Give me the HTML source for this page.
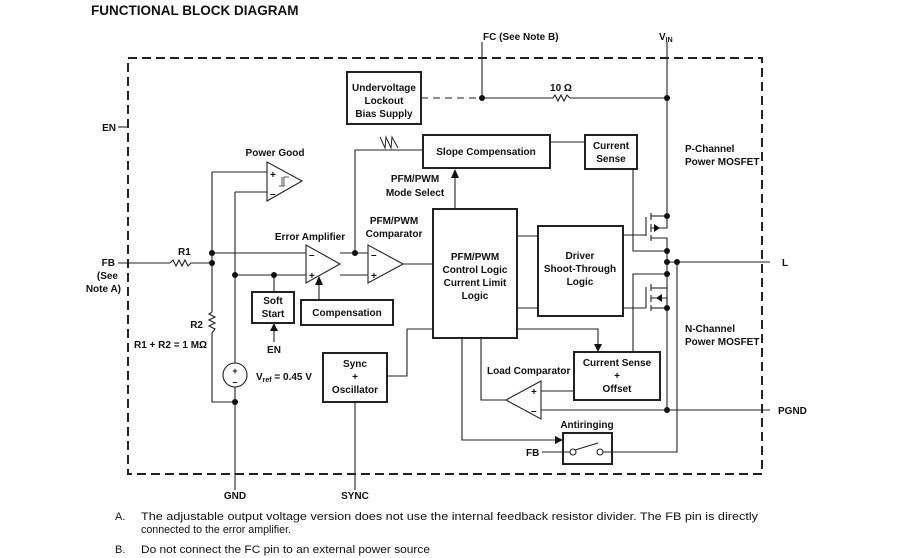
<!DOCTYPE html>
<html><head><meta charset="utf-8"><style>
body{margin:0;background:#fff;}
svg{display:block;}
text{font-family:"Liberation Sans",Arial,sans-serif;font-size:10px;font-weight:bold;fill:#111;}
.n{font-weight:normal;font-size:11px;}
</style></head><body>
<svg width="898" height="558" viewBox="0 0 898 558" xmlns="http://www.w3.org/2000/svg">
<g stroke="#222" fill="none" stroke-width="1.1">
<rect x="128" y="58" width="634" height="416" stroke-width="2" stroke-dasharray="9,5"/>
<line x1="482" y1="42" x2="482" y2="98"/>
<line x1="667" y1="42" x2="667" y2="217"/>
<line x1="421" y1="98" x2="482" y2="98" stroke-dasharray="7,5"/>
<line x1="482" y1="98" x2="553" y2="98"/>
<polyline points="553,98 555,95 558,101 561,95 564,101 567,95 570,98"/>
<line x1="570" y1="98" x2="667" y2="98"/>
<rect x="347" y="72" width="74" height="52" stroke-width="2"/>
<rect x="423" y="135" width="127" height="33" stroke-width="2"/>
<rect x="585" y="135" width="52" height="34" stroke-width="2"/>
<line x1="550" y1="142" x2="585" y2="142"/>
<polyline points="633,169 633,251 667,251"/>
<polyline points="423,150 355,150 355,253"/>
<polyline points="380,137 385,148 386,137 391,148 392,137 398,148" stroke-width="1"/>
<line x1="455" y1="209" x2="455" y2="176"/>
<rect x="433" y="209" width="84" height="129" stroke-width="2"/>
<rect x="538" y="226" width="85" height="90" stroke-width="2"/>
<line x1="517" y1="236" x2="538" y2="236"/>
<line x1="517" y1="308" x2="538" y2="308"/>
<line x1="623" y1="235" x2="646" y2="235"/>
<line x1="623" y1="308" x2="646" y2="308"/>
<line x1="646" y1="217" x2="646" y2="236"/>
<line x1="651" y1="213" x2="651" y2="220"/><line x1="651" y1="224" x2="651" y2="232"/><line x1="651" y1="235" x2="651" y2="241"/>
<line x1="651" y1="216" x2="667" y2="216"/>
<polyline points="651,228 667,228 667,216"/>
<polyline points="651,238 667,238 667,308"/>
<line x1="646" y1="287" x2="646" y2="308"/>
<line x1="651" y1="284" x2="651" y2="291"/><line x1="651" y1="295" x2="651" y2="302"/><line x1="651" y1="305" x2="651" y2="311"/>
<line x1="651" y1="288" x2="667" y2="288"/>
<polyline points="651,298 667,298 667,308"/>
<line x1="651" y1="308" x2="667" y2="308"/>
<line x1="667" y1="308" x2="667" y2="410"/>
<polyline points="633,352 633,274 667,274"/>
<line x1="667" y1="262" x2="770" y2="262"/>
<rect x="574" y="352" width="86" height="48" stroke-width="2"/>
<polyline points="517,329 598,329 598,346"/>
<line x1="574" y1="391" x2="541" y2="391"/>
<polygon points="541,381 541,419 506,400" fill="#fff"/>
<line x1="541" y1="410" x2="770" y2="410"/>
<polyline points="506,400 481,400 481,338"/>
<rect x="563" y="433" width="49" height="31" stroke-width="2"/>
<polyline points="462,338 462,440 557,440"/>
<line x1="542" y1="452" x2="570" y2="452"/>
<circle cx="573" cy="452" r="3" fill="#fff"/>
<circle cx="600" cy="452" r="3" fill="#fff"/>
<line x1="575" y1="450" x2="598" y2="443"/>
<polyline points="603,452 677,452 677,262"/>
<line x1="118" y1="127" x2="128" y2="127"/>
<line x1="118" y1="263" x2="170" y2="263"/>
<polyline points="170,263 173,260 176,266 179,260 182,266 185,260 188,266 191,263 212,263"/>
<line x1="212" y1="172" x2="212" y2="312"/>
<line x1="212" y1="172" x2="267" y2="172"/>
<polyline points="212,312 209,314 215,317 209,320 215,323 209,326 215,329 212,333 212,402 235,402"/>
<line x1="212" y1="253" x2="306" y2="253"/>
<line x1="340" y1="253" x2="368" y2="253"/>
<line x1="235" y1="192" x2="267" y2="192"/>
<line x1="235" y1="192" x2="235" y2="490"/>
<line x1="235" y1="275" x2="306" y2="275"/>
<line x1="340" y1="275" x2="368" y2="275"/>
<polygon points="267,162 267,201 302,181" fill="#fff"/>
<polyline points="279,186 284,186 284,177 289,177" stroke-width="0.8"/>
<line x1="282" y1="186" x2="282" y2="177" stroke-width="0.8"/>
<polygon points="306,245 306,283 340,264" fill="#fff"/>
<polygon points="368,245 368,283 403,264" fill="#fff"/>
<line x1="403" y1="264" x2="433" y2="264"/>
<line x1="274" y1="275" x2="274" y2="292"/>
<rect x="252" y="292" width="42" height="31" stroke-width="2"/>
<line x1="274" y1="342" x2="274" y2="330"/>
<rect x="301" y="300" width="92" height="25" stroke-width="2"/>
<line x1="319" y1="300" x2="319" y2="284"/>
<circle cx="235" cy="375" r="12" fill="#fff"/>
<rect x="323" y="353" width="64" height="49" stroke-width="2"/>
<polyline points="387,376 407,376 407,329 433,329"/>
<line x1="355" y1="402" x2="355" y2="490"/>
</g>
<g fill="#111">
<polygon points="451,178 459,178 455,169"/>
<polygon points="594,344 602,344 598,352"/>
<polygon points="555,436 555,444 563,440"/>
<polygon points="270,331 278,331 274,323"/>
<polygon points="315,285 323,285 319,276"/>
<polygon points="654,224 654,232 660,228"/>
<polygon points="662,294 662,302 656,298"/>
<circle cx="482" cy="98" r="3"/><circle cx="667" cy="98" r="3"/>
<circle cx="667" cy="216" r="3"/><circle cx="667" cy="251" r="3"/><circle cx="667" cy="262" r="3"/>
<circle cx="677" cy="262" r="3"/><circle cx="667" cy="274" r="3"/><circle cx="667" cy="308" r="3"/>
<circle cx="667" cy="410" r="3"/>
<circle cx="355" cy="253" r="3"/><circle cx="212" cy="253" r="3"/><circle cx="212" cy="263" r="3"/>
<circle cx="235" cy="275" r="3"/><circle cx="274" cy="275" r="3"/><circle cx="235" cy="402" r="3"/>
</g>
<text x="91" y="15" style="font-size:13.5px">FUNCTIONAL BLOCK DIAGRAM</text>
<text x="483" y="40">FC (See Note B)</text>
<text x="659" y="40">V<tspan font-size="7" dy="2">IN</tspan></text>
<g text-anchor="middle">
<text x="384" y="91">Undervoltage</text><text x="384" y="104">Lockout</text><text x="384" y="117">Bias Supply</text>
<text x="561" y="91">10 Ω</text>
<text x="486" y="155">Slope Compensation</text>
<text x="611" y="149">Current</text><text x="611" y="162">Sense</text>
<text x="415" y="182">PFM/PWM</text><text x="415" y="196">Mode Select</text>
<text x="275" y="156">Power Good</text>
<text x="310" y="240">Error Amplifier</text>
<text x="394" y="224">PFM/PWM</text><text x="394" y="237">Comparator</text>
<text x="475" y="260">PFM/PWM</text><text x="475" y="273">Control Logic</text><text x="475" y="286">Current Limit</text><text x="475" y="299">Logic</text>
<text x="580" y="259">Driver</text><text x="580" y="272">Shoot-Through</text><text x="580" y="285">Logic</text>
<text x="273" y="304">Soft</text><text x="273" y="317">Start</text>
<text x="347" y="316">Compensation</text>
<text x="274" y="353">EN</text>
<text x="355" y="367">Sync</text><text x="355" y="380">+</text><text x="355" y="393">Oscillator</text>
<text x="617" y="366">Current Sense</text><text x="617" y="379">+</text><text x="617" y="392">Offset</text>
<text x="587" y="428">Antiringing</text>
<text x="235" y="499">GND</text>
<text x="355" y="499">SYNC</text>
<text x="235" y="374" style="font-size:9px">+</text>
<text x="235" y="385" style="font-size:9px">–</text>
</g>
<g text-anchor="end">
<text x="116" y="131">EN</text>
<text x="115" y="266">FB</text><text x="118" y="279">(See</text><text x="121" y="292">Note A)</text>
<text x="203" y="328">R2</text>
</g>
<text x="178" y="255">R1</text>
<text x="134" y="348">R1 + R2 = 1 MΩ</text>
<text x="256" y="380">V<tspan font-size="7" dy="2">ref</tspan><tspan dy="-2"> = 0.45 V</tspan></text>
<text x="487" y="374">Load Comparator</text>
<text x="526" y="456">FB</text>
<text x="685" y="152">P-Channel</text><text x="685" y="165">Power MOSFET</text>
<text x="685" y="332">N-Channel</text><text x="685" y="345">Power MOSFET</text>
<text x="782" y="266">L</text>
<text x="778" y="414">PGND</text>
<g style="font-size:8px;font-weight:bold">
<text x="270" y="178">+</text><text x="270" y="197">–</text>
<text x="309" y="258">–</text><text x="309" y="279">+</text>
<text x="371" y="258">–</text><text x="371" y="279">+</text>
<text x="531" y="395">+</text><text x="531" y="414">–</text>
</g>
<text class="n" x="115" y="520">A.</text>
<text class="n" x="141" y="520" textLength="617" lengthAdjust="spacingAndGlyphs">The adjustable output voltage version does not use the internal feedback resistor divider. The FB pin is directly</text>
<text class="n" x="141" y="533" textLength="150" lengthAdjust="spacingAndGlyphs">connected to the error amplifier.</text>
<text class="n" x="115" y="553">B.</text>
<text class="n" x="141" y="553" textLength="289" lengthAdjust="spacingAndGlyphs">Do not connect the FC pin to an external power source</text>
</svg>
</body></html>
